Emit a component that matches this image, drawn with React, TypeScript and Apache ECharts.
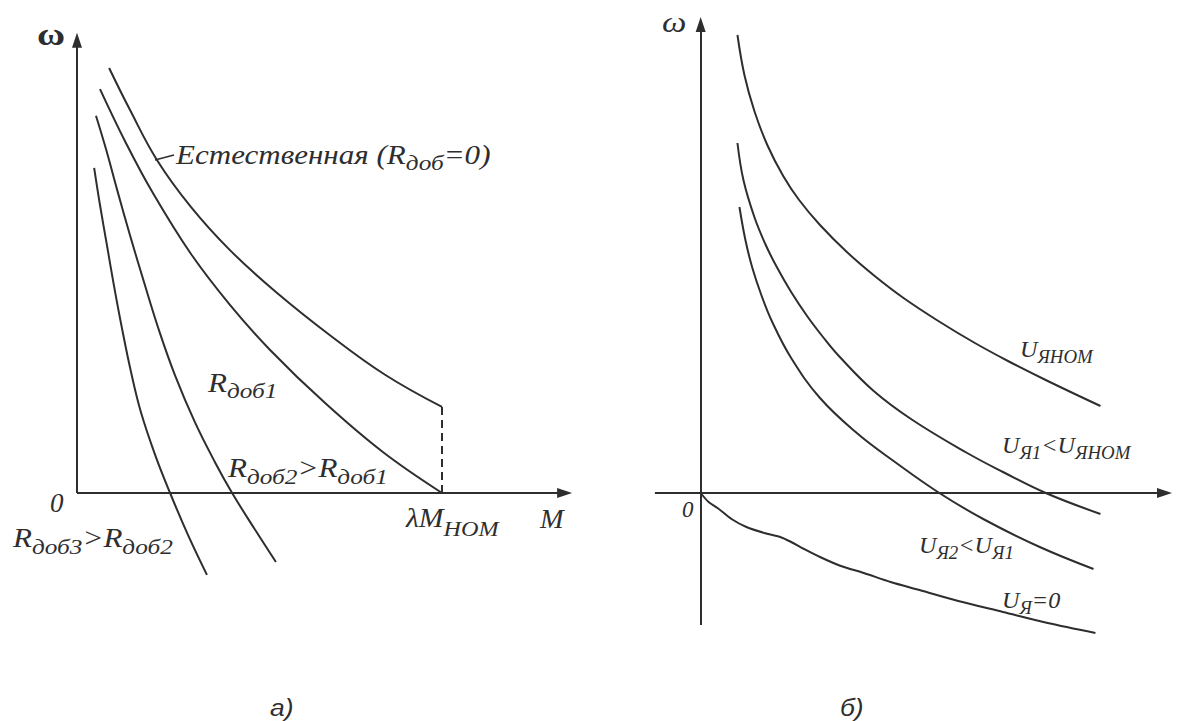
import React, { useEffect, useRef } from "react";
import * as echarts from "echarts";

// ---------- DATA ----------
// Panel а): x = M (λM_ном = 100), y = ω (relative units)
const naturalCurve = [[8.8, 92.4], [14.5, 83.3], [21.9, 72.4], [31.2, 62.2], [41.9, 52.8], [54.5, 43.7], [69.3, 34.3], [84.4, 25.7], [100, 18.7]];
const rDob1Curve = [[6.3, 87.8], [13.4, 76.1], [20.8, 65.2], [31.2, 52.0], [41.9, 40.9], [52.9, 31.1], [67.9, 19.6], [83.8, 8.9], [100, 0]];
const rDob2Curve = [[5.2, 82.0], [8.0, 74.6], [11.0, 65.9], [14.5, 56.1], [18.6, 45.2], [22.7, 34.8], [26.8, 25.7], [32.3, 15.4], [37.8, 6.7], [42.5, 0], [48.8, -8.0], [54.5, -15.0]];
const rDob3Curve = [[4.7, 70.7], [6.3, 62.6], [8.2, 53.9], [10.1, 45.2], [12.3, 35.9], [14.8, 26.3], [17.5, 17.6], [21.4, 8.3], [25.5, 0], [30.4, -9.1], [35.6, -17.8]];
const lambdaMnomDrop = [[100, 18.7], [100, 0]];

// Panel б): x = M, y = ω
const uNomCurve = [[9.25, 114.5], [11, 104.5], [13.5, 95.5], [16.75, 87], [20.75, 79.25], [24.75, 73.25], [30, 67], [36.75, 60.25], [43.75, 54.25], [51, 48.75], [59.75, 43], [68.5, 37.75], [77.25, 33], [87.25, 28], [100.5, 21.75]];
const u1Curve = [[9.25, 87.5], [10.75, 78.25], [13.5, 69], [16.25, 62.25], [19, 56.75], [22.75, 50.25], [26.75, 44.25], [30.75, 39], [34.75, 34.25], [43.5, 25.5], [53.25, 18.25], [67, 10], [76, 5.25], [86.75, 0], [100.5, -5.25]];
const u2Curve = [[9.75, 71.5], [11.25, 63.25], [13, 56.25], [15.25, 49.5], [18, 42.75], [22.75, 33.75], [30, 23.75], [39.25, 15], [48.5, 8], [60, 0], [71.5, -6.75], [85.25, -13.5], [98.75, -19]];
const u0Curve = [[0, 0], [2, -2.25], [4.25, -3.75], [7.75, -6.5], [11.5, -8.5], [16, -10], [20, -11], [22.75, -12.25], [26, -14], [30, -16], [35.25, -18.25], [41, -20], [47.75, -22.25], [55, -24.25], [64.75, -27], [76, -29.75], [87.25, -32.5], [99.25, -35]];

// Axis extents (arrow centre points)
const axisA = { xFrom: 0, xTo: 133.6, yFrom: 0, yTo: 98.4 };
const axisB = { xFrom: -11.5, xTo: 116.6, yFrom: -33, yTo: 117.1 };

// Texts
type Part = [string, boolean]; // [text, isSubscript]
const labelNatural: Part[] = [["Естественная (R", false], ["доб", true], ["=0)", false]];
const labelR1: Part[] = [["R", false], ["доб1", true]];
const labelR2: Part[] = [["R", false], ["доб2", true], [">R", false], ["доб1", true]];
const labelR3: Part[] = [["R", false], ["доб3", true], [">R", false], ["доб2", true]];
const labelLambda: Part[] = [["λM", false], ["НОМ", true]];
const labelUnom: Part[] = [["U", false], ["ЯНОМ", true]];
const labelU1: Part[] = [["U", false], ["Я1", true], ["<U", false], ["ЯНОМ", true]];
const labelU2: Part[] = [["U", false], ["Я2", true], ["<U", false], ["Я1", true]];
const labelU0: Part[] = [["U", false], ["Я", true], ["=0", false]];

const INK = "#2e2e2e";
const SERIF = "Liberation Serif, serif";
const SANS = "Liberation Sans, sans-serif";

type LabelSpec = {
  parts: Part[];
  left: number;
  baseline: number;
  main: number;
  sub: number;
  drop: number;
  family: string;
  fontStyle: string;
  fontWeight: string;
  sx: number;
};

const A = { main: 27, sub: 22, sx: 1.15 };
const B = { main: 23, sub: 18, sx: 1.05 };

const labelLayout: LabelSpec[] = [
  { parts: labelNatural, left: 176, baseline: 164, main: A.main, sub: A.sub, drop: 6, family: SERIF, fontStyle: "italic", fontWeight: "normal", sx: A.sx },
  { parts: labelR1, left: 208, baseline: 392, main: A.main, sub: A.sub, drop: 6, family: SERIF, fontStyle: "italic", fontWeight: "normal", sx: A.sx },
  { parts: labelR2, left: 228, baseline: 477, main: A.main, sub: A.sub, drop: 7, family: SERIF, fontStyle: "italic", fontWeight: "normal", sx: A.sx },
  { parts: labelR3, left: 13, baseline: 547, main: A.main, sub: A.sub, drop: 7, family: SERIF, fontStyle: "italic", fontWeight: "normal", sx: A.sx },
  { parts: [["0", false]], left: 50, baseline: 512, main: A.main, sub: A.sub, drop: 0, family: SERIF, fontStyle: "italic", fontWeight: "normal", sx: 1 },
  { parts: labelLambda, left: 406, baseline: 527, main: A.main, sub: A.sub, drop: 9, family: SERIF, fontStyle: "italic", fontWeight: "normal", sx: 1.1 },
  { parts: [["M", false]], left: 540, baseline: 528, main: 27, sub: 20, drop: 0, family: SERIF, fontStyle: "italic", fontWeight: "normal", sx: 1.05 },
  { parts: [["ω", false]], left: 37, baseline: 45, main: 32, sub: 20, drop: 0, family: SERIF, fontStyle: "normal", fontWeight: "bold", sx: 1.2 },
  { parts: [["а)", false]], left: 270, baseline: 716, main: 24, sub: 20, drop: 0, family: SANS, fontStyle: "italic", fontWeight: "normal", sx: 1.1 },
  { parts: labelUnom, left: 1020, baseline: 357, main: B.main, sub: B.sub, drop: 6, family: SERIF, fontStyle: "italic", fontWeight: "normal", sx: B.sx },
  { parts: labelU1, left: 1002, baseline: 453, main: B.main, sub: B.sub, drop: 6, family: SERIF, fontStyle: "italic", fontWeight: "normal", sx: B.sx },
  { parts: labelU2, left: 919, baseline: 553, main: B.main, sub: B.sub, drop: 6, family: SERIF, fontStyle: "italic", fontWeight: "normal", sx: B.sx },
  { parts: labelU0, left: 1002, baseline: 608, main: B.main, sub: B.sub, drop: 6, family: SERIF, fontStyle: "italic", fontWeight: "normal", sx: B.sx },
  { parts: [["0", false]], left: 682, baseline: 517, main: 23, sub: 18, drop: 0, family: SERIF, fontStyle: "italic", fontWeight: "normal", sx: 1 },
  { parts: [["ω", false]], left: 662, baseline: 32, main: 30, sub: 18, drop: 0, family: SERIF, fontStyle: "italic", fontWeight: "normal", sx: 1.15 },
  { parts: [["б)", false]], left: 840, baseline: 716, main: 24, sub: 18, drop: 0, family: SANS, fontStyle: "italic", fontWeight: "normal", sx: 1.1 },
];

function buildLabels(ctx: CanvasRenderingContext2D | null) {
  const els: any[] = [];
  for (const spec of labelLayout) {
    let x = spec.left;
    for (const [t, isSub] of spec.parts) {
      const size = isSub ? spec.sub : spec.main;
      const font = `${spec.fontStyle} ${spec.fontWeight} ${size}px ${spec.family}`;
      let w = size * 0.5 * t.length;
      if (ctx) {
        ctx.font = font;
        w = ctx.measureText(t).width;
      }
      const base = isSub ? spec.baseline + spec.drop : spec.baseline;
      els.push({
        type: "text",
        x,
        y: base - 0.34 * size,
        scaleX: spec.sx,
        silent: true,
        z: 10,
        style: {
          text: t,
          fontStyle: spec.fontStyle,
          fontWeight: spec.fontWeight,
          fontSize: size,
          fontFamily: spec.family,
          fill: INK,
          align: "left",
          verticalAlign: "middle",
        },
      });
      x += w * spec.sx;
    }
  }
  // leader tick from the natural curve to its label
  els.push({
    type: "line",
    silent: true,
    shape: { x1: 155, y1: 160, x2: 174, y2: 155 },
    style: { stroke: INK, lineWidth: 1.5 },
  });
  return els;
}

const ARROW = [10, 15];

function axisMarkLine(ax: { xFrom: number; xTo: number; yFrom: number; yTo: number }, yLineFrom: number) {
  return {
    silent: true,
    animation: false,
    label: { show: false },
    lineStyle: { type: "solid", color: INK, width: 2 },
    data: [
      [
        { coord: [ax.xFrom, 0], symbol: "none" },
        { coord: [ax.xTo, 0], symbol: "triangle", symbolSize: ARROW },
      ],
      [
        { coord: [0, yLineFrom], symbol: "none" },
        { coord: [0, ax.yTo], symbol: "triangle", symbolSize: ARROW },
      ],
    ],
  };
}

function curve(name: string, data: number[][], idx: number, extra: any = {}) {
  return {
    type: "line",
    name,
    xAxisIndex: idx,
    yAxisIndex: idx,
    data,
    symbol: "none",
    showSymbol: false,
    smooth: 0.4,
    silent: true,
    clip: false,
    lineStyle: { color: INK, width: 2 },
    ...extra,
  };
}

export default function App() {
  const ref = useRef<HTMLDivElement>(null);
  useEffect(() => {
    const el = ref.current;
    if (!el) return;
    const chart = echarts.init(el, null, { renderer: "svg" });
    const canvas = document.createElement("canvas");
    const ctx = canvas.getContext("2d");
    chart.setOption({
      animation: false,
      backgroundColor: "#ffffff",
      grid: [
        { left: 77, top: 33, width: 140 * 3.65, height: 130 * 4.6 },
        { left: 641, top: 13, width: 540, height: 640 },
      ],
      xAxis: [
        { type: "value", gridIndex: 0, min: 0, max: 140, show: false },
        { type: "value", gridIndex: 1, min: -15, max: 120, show: false },
      ],
      yAxis: [
        { type: "value", gridIndex: 0, min: -30, max: 100, show: false },
        { type: "value", gridIndex: 1, min: -40, max: 120, show: false },
      ],
      series: [
        curve("Естественная", naturalCurve, 0),
        curve("Rдоб1", rDob1Curve, 0),
        curve("Rдоб2", rDob2Curve, 0),
        curve("Rдоб3", rDob3Curve, 0, { markLine: axisMarkLine(axisA, 0) }),
        curve("λMном", lambdaMnomDrop, 0, { smooth: false, lineStyle: { color: INK, width: 2, type: [8, 5] } }),
        curve("Uяном", uNomCurve, 1),
        curve("Uя1", u1Curve, 1),
        curve("Uя2", u2Curve, 1),
        curve("Uя=0", u0Curve, 1, { smooth: 0.3, markLine: axisMarkLine(axisB, axisB.yFrom) }),
      ],
      graphic: buildLabels(ctx),
    });
    return () => chart.dispose();
  }, []);
  return (
    <div
      ref={ref}
      style={{ position: "absolute", left: 0, top: 0, width: 1178, height: 721, background: "#fff" }}
    />
  );
}
